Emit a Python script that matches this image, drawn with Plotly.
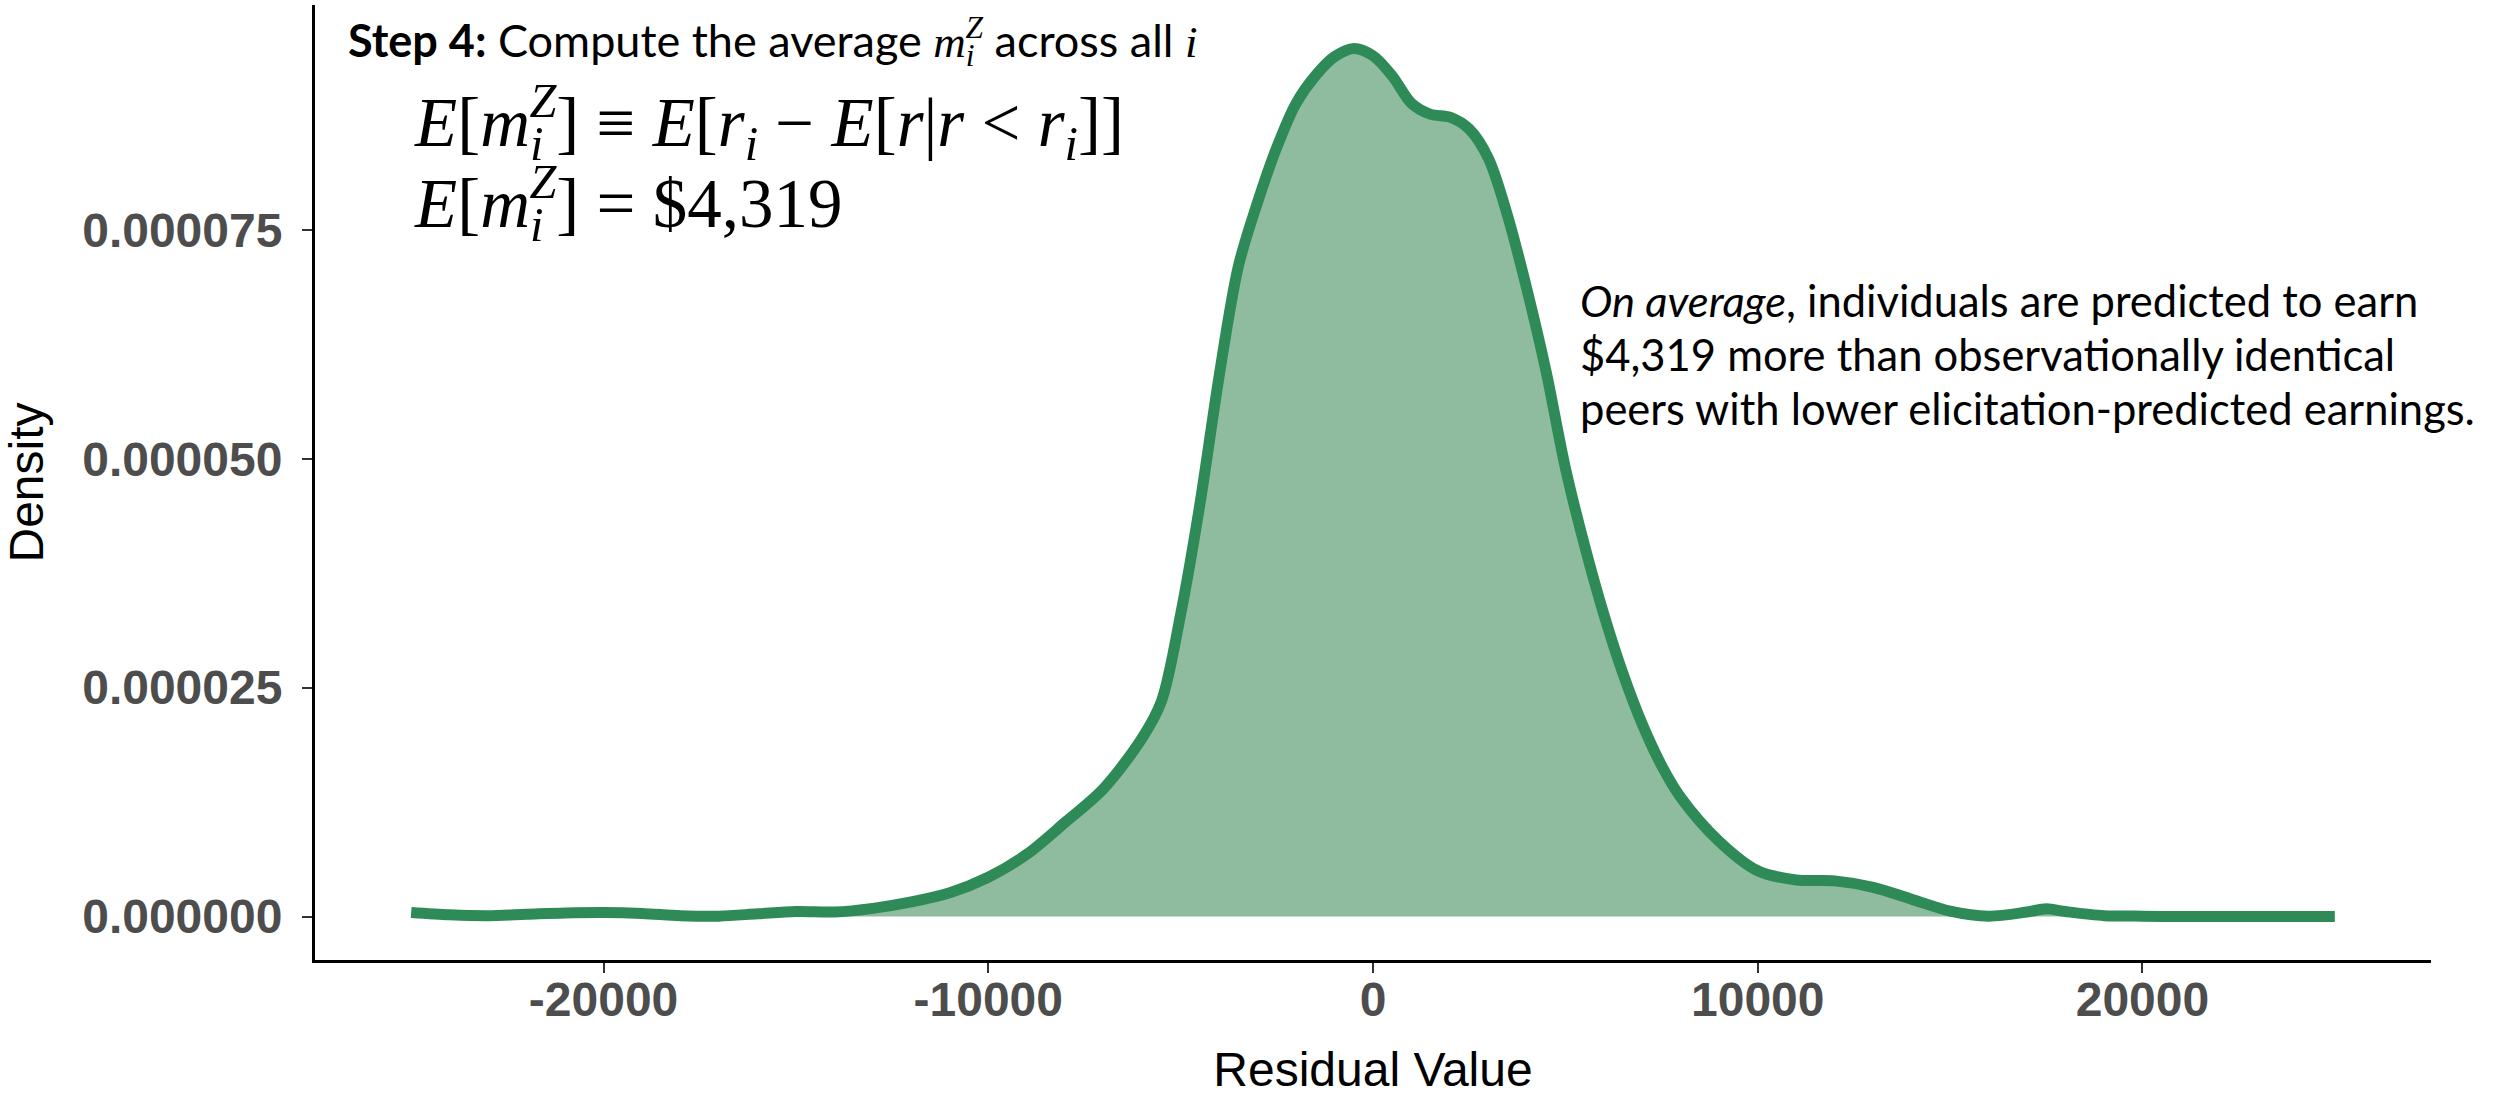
import plotly.graph_objects as go

# ---- data ----
residual = [-25000, -24000, -23000, -22000, -21000, -20000, -19000, -18000, -17000,
            -16000, -15000, -14000, -13000, -12000, -11000, -10000, -9000, -8000,
            -7000, -6000, -5500, -5000, -4500, -4000, -3500, -3000, -2500, -2000,
            -1500, -1000, -500, 0, 500, 1000, 1500, 2000, 2500, 3000, 3500, 4000,
            4500, 5000, 5500, 6000, 6500, 7000, 7500, 8000, 9000, 10000, 11000,
            12000, 13000, 14000, 15000, 16000, 17000, 17500, 18000, 19000, 20000,
            21000, 22000, 23000, 24000, 25000]
density = [0.45e-6, 0.2e-6, 0.1e-6, 0.25e-6, 0.4e-6, 0.45e-6, 0.35e-6, 0.1e-6, 0.05e-6,
           0.3e-6, 0.55e-6, 0.5e-6, 0.9e-6, 1.6e-6, 2.6e-6, 4.3e-6, 6.8e-6, 10.3e-6,
           14.0e-6, 19.5e-6, 23.5e-6, 33.0e-6, 45.0e-6, 59.0e-6, 71.0e-6, 78.0e-6, 84.0e-6, 88.8e-6,
           91.8e-6, 93.9e-6, 94.8e-6, 94.0e-6, 91.8e-6, 88.8e-6, 87.6e-6, 87.3e-6, 86.0e-6, 82.8e-6,
           76.5e-6, 68.5e-6, 59.5e-6, 49.0e-6, 40.5e-6, 33.0e-6, 26.5e-6, 21.0e-6, 16.5e-6, 13.0e-6,
           8.2e-6, 5.0e-6, 4.0e-6, 3.9e-6, 3.2e-6, 1.9e-6, 0.6e-6, 0.05e-6, 0.5e-6, 0.85e-6,
           0.55e-6, 0.1e-6, 0.05e-6, 0.0, 0.0, 0.0, 0.0, 0.0]

x_tickvals = [-20000, -10000, 0, 10000, 20000]
x_ticktext = ["-20000", "-10000", "0", "10000", "20000"]
y_tickvals = [0, 0.000025, 0.00005, 0.000075]
y_ticktext = ["0.000000", "0.000025", "0.000050", "0.000075"]

x_title = "Residual Value"
y_title = "Density"

# ---- layout geometry ----
W, H = 2506, 1096
L, R, T, B = 315, 75, 5, 136
PW, PH = W - L - R, H - T - B


def px_x(px):
    return (px - L) / PW


def px_y(py):
    return (H - B - py) / PH


LINE = "rgb(46,139,87)"
FILL = "rgb(143,188,159)"

fig = go.Figure()
fig.add_trace(go.Scatter(
    x=residual, y=density, mode="lines",
    fill="tozeroy", fillcolor=FILL,
    line=dict(color=LINE, width=11, shape="spline", smoothing=0.9),
    hoverinfo="skip", showlegend=False,
))

ymax = max(density)
pad = 0.05 * ymax

tick_font = dict(family="Liberation Sans, Arial, sans-serif", size=48, color="#4d4d4d", weight="bold")
title_font = dict(family="Liberation Sans, Arial, sans-serif", size=48, color="black")

fig.update_layout(
    width=W, height=H,
    margin=dict(l=L, r=R, t=T, b=B, autoexpand=False),
    paper_bgcolor="white", plot_bgcolor="white",
    showlegend=False,
    xaxis=dict(
        range=[-27500, 27500], tickvals=x_tickvals, ticktext=x_ticktext,
        showgrid=False, zeroline=False,
        showline=True, linecolor="black", linewidth=3,
        ticks="outside", ticklen=10, tickwidth=2, tickcolor="#333333",
        tickfont=tick_font, ticklabelstandoff=-15,
        title=dict(text=x_title, font=title_font, standoff=63),
    ),
    yaxis=dict(
        range=[-pad, ymax + pad], tickvals=y_tickvals, ticktext=y_ticktext,
        showgrid=False, zeroline=False,
        showline=True, linecolor="black", linewidth=3,
        ticks="outside", ticklen=10, tickwidth=2, tickcolor="#333333",
        tickfont=tick_font, ticklabelstandoff=10,
        title=dict(text=y_title, font=title_font, standoff=35),
    ),
)

CAL = "Lato, Carlito, Calibri, sans-serif"
MATH = "Liberation Serif, Times New Roman, serif"


def ann(text, x, y, size, family, **kw):
    fig.add_annotation(text=text, xref="paper", yref="paper", x=px_x(x), y=px_y(y),
                       xanchor="left", yanchor="middle", showarrow=False,
                       font=dict(family=family, size=size, color="black"), **kw)


def mz(back):
    # m with subscript i and superscript Z stacked above it
    return ("<i>m</i><sub><span style='letter-spacing:-%dpx'><i>i</i></span></sub>"
            "<sup><i>Z</i></sup>" % back)


ann("<b>Step 4:</b> Compute the average <span style='font-family:Liberation Serif'>"
    + mz(9) + "</span> across all "
    "<span style='font-family:Liberation Serif'><i>i</i></span>", 346, 38, 45, CAL)

ann("<i>E</i>[" + mz(14) + "] ≡ <i>E</i>[<i>r</i><sub><i>i</i></sub> − "
    "<i>E</i>[<i>r</i>|<i>r</i> &lt; <i>r</i><sub><i>i</i></sub>]]", 412, 122, 69, MATH)
ann("<i>E</i>[" + mz(14) + "] = $4,319", 412, 199, 69, MATH)

right_lines = [
    "<i>On average</i>, individuals are predicted to earn",
    "$4,319 more than observationally identical",
    "peers with lower elicitation-predicted earnings.",
]
for i, t in enumerate(right_lines):
    ann(t, 1578, 300 + 54 * i, 43.5, CAL)

fig.write_html("out.html")
